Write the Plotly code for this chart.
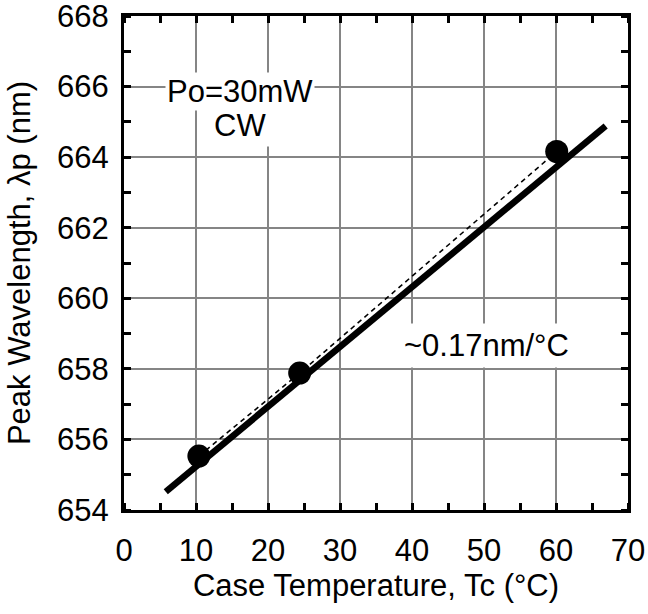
import plotly.graph_objects as go

# Measured peak wavelength vs case temperature
temp_c = [10.4, 24.4, 60.1]
peak_nm = [655.53, 657.88, 664.16]

# Linear fit (~0.17 nm/°C)
fit_temp = [5.8, 66.9]
fit_nm = [654.52, 664.88]

x_ticks = [0, 10, 20, 30, 40, 50, 60, 70]
y_ticks = [654, 656, 658, 660, 662, 664, 666, 668]

FONT = "Liberation Sans, Arial, sans-serif"
FS = 31

fig = go.Figure()

fig.add_trace(go.Scatter(
    x=temp_c, y=peak_nm, mode="lines",
    line=dict(color="black", width=1.6, dash="5px,4px"),
    showlegend=False, hoverinfo="skip",
))
fig.add_trace(go.Scatter(
    x=fit_temp, y=fit_nm, mode="lines",
    line=dict(color="black", width=6.5),
    showlegend=False, hoverinfo="skip",
))
fig.add_trace(go.Scatter(
    x=temp_c, y=peak_nm, mode="markers",
    marker=dict(color="black", size=23),
    showlegend=False,
))

axis_common = dict(
    showline=True, linecolor="black", linewidth=3, mirror="ticks",
    showgrid=True, gridcolor="#858585", gridwidth=2,
    ticks="", zeroline=False, ticklabeloverflow="allow", automargin=False,
    tickfont=dict(family=FONT, size=FS, color="black"),
)

fig.update_xaxes(
    range=[0, 70], tickvals=x_ticks, ticklabelstandoff=11,
    minor=dict(dtick=5, ticks="inside", ticklen=7, tickwidth=2.5,
               tickcolor="black", showgrid=False),
    title=dict(text="Case Temperature, Tc (°C)",
               font=dict(family=FONT, size=FS, color="black"), standoff=8),
    **axis_common,
)
fig.update_yaxes(
    range=[654, 668], tickvals=y_ticks, ticklabelstandoff=6,
    minor=dict(dtick=1, ticks="inside", ticklen=7, tickwidth=2.5,
               tickcolor="black", showgrid=False),
    title=dict(text="Peak Wavelength, λp (nm)",
               font=dict(family=FONT, size=FS, color="black"), standoff=18),
    **axis_common,
)

# Operating-condition label
fig.add_annotation(
    x=16.1, y=665.85, text="Po=30mW", showarrow=False,
    font=dict(family=FONT, size=FS, color="black"),
    bgcolor="white", borderpad=1,
)
fig.add_annotation(
    x=16.1, y=664.9, text="CW", showarrow=False,
    font=dict(family=FONT, size=FS, color="black"),
    bgcolor="white", borderpad=3,
)
# Slope label
fig.add_annotation(
    x=50.3, y=658.65, text="~0.17nm/°C", showarrow=False,
    font=dict(family=FONT, size=FS, color="black"),
    bgcolor="white", borderpad=4,
)

fig.update_layout(
    width=648, height=614,
    margin=dict(l=124, r=20, t=16, b=104),
    plot_bgcolor="white", paper_bgcolor="white",
    font=dict(family=FONT, color="black"),
)

fig.write_html("out.html")
